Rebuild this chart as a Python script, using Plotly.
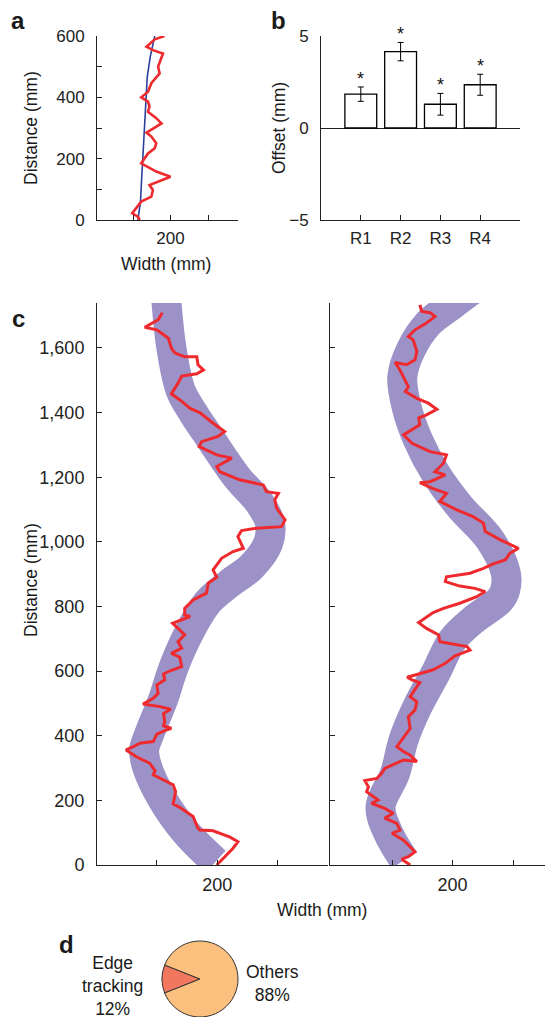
import plotly.graph_objects as go

# The page body keeps its default 8px margin, so the figure is drawn 8px in from
# the top-left corner; the figure is sized so that it ends at the window edge.
PAGE_W, PAGE_H, OFF = 553, 1017, 8
W, H = PAGE_W - OFF, PAGE_H - OFF
FONT = "Liberation Sans, Arial, sans-serif"

# ---------- panel a ----------
a_blue_width = [113, 120, 122, 126, 129, 133, 138, 146, 158]
a_blue_dist = [0, 60, 109, 200, 283, 380, 467, 533, 600]
a_red_width = [118, 113, 98, 109, 122, 149, 153, 144, 167, 200, 162, 136, 122, 140, 158, 162,
               149, 136, 153, 176, 162, 140, 144, 140, 122, 140, 149, 171, 167, 180, 153, 136,
               158, 184]
a_red_dist = [0, 11, 22, 38, 60, 76, 98, 114, 125, 141, 158, 174, 185, 217, 234, 250,
              272, 285, 299, 315, 332, 353, 370, 386, 400, 418, 446, 478, 500, 543, 554, 565,
              589, 600]

# ---------- panel b ----------
b_cats = ["R1", "R2", "R3", "R4"]
b_pos = [1, 2, 3, 4]
b_vals = [1.84, 4.15, 1.29, 2.35]
b_err = [0.39, 0.50, 0.59, 0.57]

# ---------- panel c (left) ----------
cl_band_dist = [10, 99, 201, 303, 356, 408, 511, 613, 718, 815, 873, 922, 996, 1058, 1120,
                1201, 1315, 1399, 1470, 1600, 1739, 1800]
cl_band_width = [197, 149, 110, 84, 79, 88, 110, 128, 153, 185, 221, 256, 284, 287, 270,
                 232, 190, 160, 139, 124, 116, 114]
cl_red_width = [109, 102, 80, 100, 119, 124, 130, 146, 166, 168, 177, 166, 141, 135, 124, 138,
                155, 171, 193, 212, 201, 174, 170, 199, 224, 199, 204, 237, 276, 281, 301, 295,
                298, 312, 306, 265, 240, 234, 243, 226, 207, 193, 199, 185, 182, 160, 146, 146,
                155, 141, 126, 135, 146, 135, 141, 124, 138, 141, 122, 111, 113, 100, 102, 94,
                77, 105, 123, 111, 113, 111, 124, 113, 100, 94, 72, 61, 49, 66, 88, 97,
                94, 111, 127, 131, 127, 138, 146, 160, 167, 171, 193, 221, 234, 226, 210, 199]
cl_red_dist = [1709, 1687, 1664, 1656, 1630, 1599, 1584, 1573, 1573, 1548, 1532, 1520, 1513, 1491, 1458, 1439,
               1413, 1400, 1367, 1341, 1326, 1310, 1295, 1269, 1259, 1233, 1217, 1192, 1176, 1155, 1150, 1130,
               1104, 1068, 1047, 1042, 1035, 1016, 980, 970, 949, 913, 890, 872, 841, 820, 794, 774,
               769, 760, 748, 732, 712, 691, 671, 655, 643, 614, 601, 591, 573, 557, 531, 516,
               498, 490, 482, 469, 444, 430, 423, 416, 405, 382, 377, 366, 356, 335, 315, 292,
               279, 263, 248, 227, 189, 178, 168, 150, 117, 108, 106, 86, 72, 52, 21, 0]

# ---------- panel c (right) ----------
cr_band_dist = [15, 98, 180, 284, 387, 490, 594, 696, 758, 820, 851, 903, 1006, 1109, 1212,
                1315, 1418, 1511, 1594, 1676, 1733, 1790]
cr_band_width = [120, 94, 81, 105, 119, 142, 172, 200, 234, 278, 287, 288, 262, 212, 172,
                 143, 124, 117, 131, 160, 199, 240]
cr_red_width = [146, 149, 163, 171, 157, 138, 127, 135, 141, 138, 124, 105, 113, 122, 127, 122,
                141, 160, 174, 157, 144, 146, 127, 119, 133, 163, 190, 185, 171, 188, 163, 146,
                166, 190, 179, 207, 234, 251, 254, 279, 309, 295, 287, 267, 251, 229, 190, 188,
                212, 237, 254, 240, 212, 185, 168, 144, 157, 177, 179, 224, 229, 204, 188, 168,
                144, 125, 133, 146, 141, 130, 141, 138, 127, 130, 108, 119, 130, 141, 119, 100,
                88, 83, 75, 55, 61, 58, 69, 77, 66, 88, 102, 88, 108, 113, 100, 119,
                138, 127, 116, 130]
cr_red_dist = [1733, 1713, 1709, 1697, 1677, 1656, 1635, 1625, 1589, 1563, 1548, 1555, 1532, 1501, 1480, 1465,
               1444, 1429, 1410, 1393, 1383, 1362, 1341, 1331, 1305, 1279, 1269, 1243, 1217, 1207, 1186, 1183,
               1166, 1150, 1125, 1099, 1078, 1058, 1032, 1006, 980, 965, 944, 932, 918, 903, 892, 877,
               863, 856, 846, 830, 810, 794, 781, 750, 732, 712, 691, 676, 665, 647, 624, 604,
               591, 581, 573, 564, 552, 521, 505, 480, 459, 423, 366, 351, 340, 320, 325, 310,
               299, 284, 268, 261, 242, 227, 211, 201, 191, 175, 160, 145, 129, 108, 98, 77,
               41, 26, 18, 0]

# ---------- panel d ----------
d_labels = ["Edge tracking", "Others"]
d_values = [12, 88]

RED = "#ee2a2e"
BAND = "#9c92c8"
AX = "#222222"


def px_x(p):
    return (p - OFF) / W


def px_y(p):
    return 1 - (p - OFF) / H


fig = go.Figure()

# panel a
fig.add_trace(go.Scatter(x=a_blue_width, y=a_blue_dist, mode="lines",
                         line=dict(color="#2b3f9c", width=1.6), xaxis="x", yaxis="y"))
fig.add_trace(go.Scatter(x=a_red_width, y=a_red_dist, mode="lines",
                         line=dict(color=RED, width=2.6), xaxis="x", yaxis="y"))

# panel b
fig.add_trace(go.Bar(x=b_pos, y=b_vals, width=0.8,
                     marker=dict(color="white", line=dict(color="black", width=1.3)),
                     error_y=dict(type="data", array=b_err, color="black", thickness=1, width=3),
                     xaxis="x2", yaxis="y2"))

# panel c
fig.add_trace(go.Scatter(x=cl_band_width, y=cl_band_dist, mode="lines",
                         line=dict(color=BAND, width=30, shape="spline", smoothing=1.0),
                         xaxis="x3", yaxis="y3"))
fig.add_trace(go.Scatter(x=cl_red_width, y=cl_red_dist, mode="lines",
                         line=dict(color=RED, width=3), xaxis="x3", yaxis="y3"))
fig.add_trace(go.Scatter(x=cr_band_width, y=cr_band_dist, mode="lines",
                         line=dict(color=BAND, width=30, shape="spline", smoothing=1.0),
                         xaxis="x4", yaxis="y4"))
fig.add_trace(go.Scatter(x=cr_red_width, y=cr_red_dist, mode="lines",
                         line=dict(color=RED, width=3), xaxis="x4", yaxis="y4"))

# panel d
fig.add_trace(go.Pie(labels=d_labels, values=d_values, sort=False,
                     direction="counterclockwise", rotation=-111.6,
                     marker=dict(colors=["#f1775f", "#fbc07e"], line=dict(color="#333333", width=1)),
                     textinfo="none", hoverinfo="none", showlegend=False,
                     domain=dict(x=[px_x(161), px_x(239)], y=[0, px_y(941)])))

common = dict(showline=True, linecolor=AX, linewidth=1, ticks="inside", ticklen=5,
              tickcolor=AX, tickwidth=1, showgrid=False, zeroline=False,
              tickfont=dict(family=FONT, size=17, color="#222"))
xcommon = dict(common, ticklabelstandoff=3)
ycommon = dict(common, ticklabelstandoff=8)
f18 = dict(family=FONT, size=18, color="#222")

fig.update_layout(
    width=W, height=H, margin=dict(l=0, r=0, t=0, b=0, pad=0, autoexpand=False),
    paper_bgcolor="white", plot_bgcolor="white", showlegend=False,
    font=dict(family=FONT, size=17, color="#222"),
    xaxis=dict(xcommon, domain=[px_x(97), px_x(238)], range=[4, 380],
               tickvals=[100, 200, 300], ticktext=["", "200", ""], anchor="y"),
    yaxis=dict(ycommon, domain=[px_y(220), px_y(36)], range=[0, 600],
               tickvals=[0, 100, 200, 300, 400, 500, 600],
               ticktext=["0", "", "200", "", "400", "", "600"], anchor="x"),
    xaxis2=dict(xcommon, domain=[px_x(321), px_x(520)], range=[0, 5],
                tickvals=b_pos, ticktext=b_cats, anchor="y2"),
    yaxis2=dict(ycommon, domain=[px_y(220), px_y(36)], range=[-5, 5],
                tickvals=[-5, 0, 5], zeroline=True, zerolinecolor=AX, zerolinewidth=1,
                anchor="x2"),
    xaxis3=dict(xcommon, domain=[px_x(97), px_x(328)], range=[1, 383],
                tickvals=[100, 200, 300], ticktext=["", "200", ""], anchor="y3",
                tickfont=f18),
    yaxis3=dict(ycommon, domain=[px_y(865), px_y(303)], range=[0, 1739],
                tickvals=list(range(0, 1700, 200)),
                ticktext=["0", "200", "400", "600", "800", "1,000", "1,200", "1,400", "1,600"],
                anchor="x3", tickfont=f18),
    xaxis4=dict(xcommon, domain=[px_x(330), 1.0], range=[-2.5, 366],
                tickvals=[100, 200, 300], ticktext=["", "200", ""], anchor="y4",
                tickfont=f18),
    yaxis4=dict(ycommon, domain=[px_y(865), px_y(303)], range=[0, 1739],
                tickvals=list(range(0, 1700, 200)), showticklabels=False, anchor="x4"),
)

ann = []


def txt(x, y, s, size=17, angle=0, xanchor="center", yanchor="middle"):
    ann.append(dict(x=px_x(x), y=px_y(y), xref="paper", yref="paper", text=s,
                    showarrow=False, textangle=angle, xanchor=xanchor, yanchor=yanchor,
                    font=dict(family=FONT, size=size, color="#1a1a1a"),
                    align="center"))


# panel letters
txt(18, 20, "<b>a</b>", size=24)
txt(278, 20, "<b>b</b>", size=24)
txt(18, 318, "<b>c</b>", size=24)
txt(66, 944, "<b>d</b>", size=24)

# axis titles
txt(31, 128, "Distance (mm)", size=17.5, angle=-90)
txt(166, 264, "Width (mm)", size=17.5)
txt(279, 128, "Offset (mm)", size=17.5, angle=-90)
txt(31, 580, "Distance (mm)", size=17.5, angle=-90)
txt(322, 910, "Width (mm)", size=17.5)

# pie labels
txt(112, 986, "Edge<br>tracking<br>12%", size=17.5)
txt(272, 983, "Others<br>88%", size=17.5)

fig.update_layout(annotations=ann)

# significance stars above error bars (panel b)
for p, v, e in zip(b_pos, b_vals, b_err):
    fig.add_annotation(x=p, y=v + e, xref="x2", yref="y2", text="*", showarrow=False,
                       yanchor="bottom", yshift=-4, font=dict(family=FONT, size=18, color="#111"))

fig.write_html("out.html")
